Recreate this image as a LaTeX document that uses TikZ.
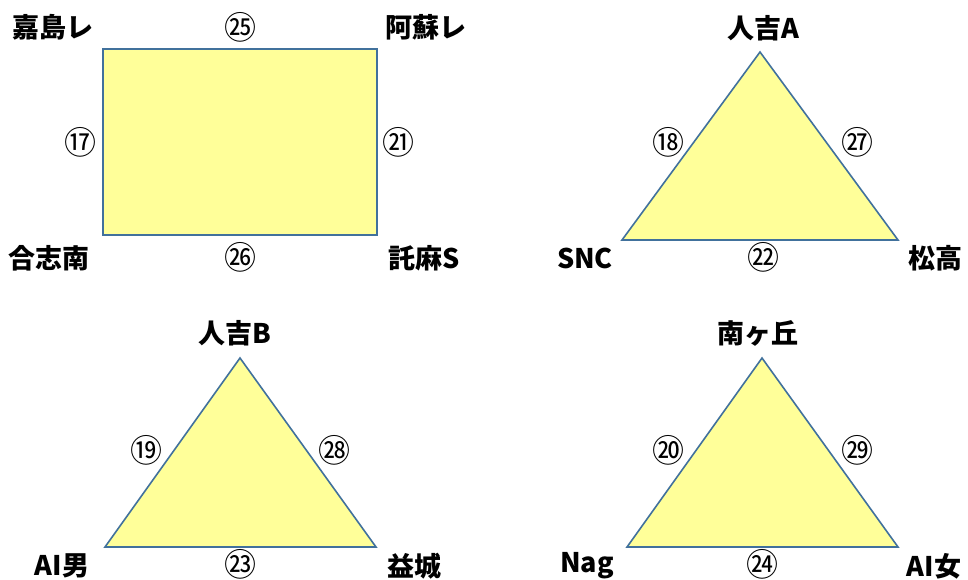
\documentclass[tikz,border=0pt]{standalone}
\usepackage{fontspec}
\newfontfamily\jp{Noto Sans CJK JP}
\tikzset{
  shape fill/.style={fill=fillyellow, draw=edgeblue, line width=1.6pt, line join=miter},
  vlabel/.style={font=\jp\bfseries\fontsize{27}{30}\selectfont, inner sep=0pt, anchor=center},
  elabel/.style={font=\jp\fontsize{32}{36}\selectfont, inner sep=0pt, anchor=center}
}
\definecolor{fillyellow}{HTML}{FFFF99}
\definecolor{edgeblue}{HTML}{41719C}
\begin{document}
\begin{tikzpicture}[x=1pt,y=-1pt]
\useasboundingbox (0,0) rectangle (968,579);
% rectangle
\coordinate (r1) at (103,49);
\coordinate (r2) at (377,49);
\coordinate (r3) at (377,235);
\coordinate (r4) at (103,235);
\draw[shape fill] (r1) -- (r2) -- (r3) -- (r4) -- cycle;
\node[vlabel] (kashima) at (53,27) {嘉島レ};
\node[vlabel] (aso) at (426,27) {阿蘇レ};
\node[vlabel] (koshi) at (49,258) {合志南};
\node[vlabel] (takuma) at (424,258) {託麻S};
\node[elabel] (e25) at (240,27) {㉕};
\node[elabel] (e17) at (80,142) {⑰};
\node[elabel] (e21) at (398,142) {㉑};
\node[elabel] (e26) at (240,257) {㉖};
% triangle A
\coordinate (a1) at (760,52);
\coordinate (a2) at (622,240);
\coordinate (a3) at (898,240);
\draw[shape fill] (a1) -- (a2) -- (a3) -- cycle;
\node[vlabel] (hitoA) at (763,28) {人吉A};
\node[vlabel] (snc) at (585,258) {SNC};
\node[vlabel] (matsu) at (935,258) {松高};
\node[elabel] (e18) at (668,142) {⑱};
\node[elabel] (e27) at (857,142) {㉗};
\node[elabel] (e22) at (763,257) {㉒};
% triangle B
\coordinate (b1) at (240,358);
\coordinate (b2) at (105,547);
\coordinate (b3) at (376,547);
\draw[shape fill] (b1) -- (b2) -- (b3) -- cycle;
\node[vlabel] (hitoB) at (235,333) {人吉B};
\node[vlabel] (aim) at (62,566) {AI男};
\node[vlabel] (mashiki) at (414,566) {益城};
\node[elabel] (e19) at (146,450) {⑲};
\node[elabel] (e28) at (334,450) {㉘};
\node[elabel] (e23) at (240,564) {㉓};
% triangle C
\coordinate (c1) at (762,358);
\coordinate (c2) at (627,547);
\coordinate (c3) at (898,547);
\draw[shape fill] (c1) -- (c2) -- (c3) -- cycle;
\node[vlabel] (minami) at (758,333) {南ヶ丘};
\node[vlabel] (nag) at (587,566) {Nag};
\node[vlabel] (aif) at (934,566) {AI女};
\node[elabel] (e20) at (668,450) {⑳};
\node[elabel] (e29) at (857,450) {㉙};
\node[elabel] (e24) at (762,564) {㉔};
\end{tikzpicture}
\end{document}
